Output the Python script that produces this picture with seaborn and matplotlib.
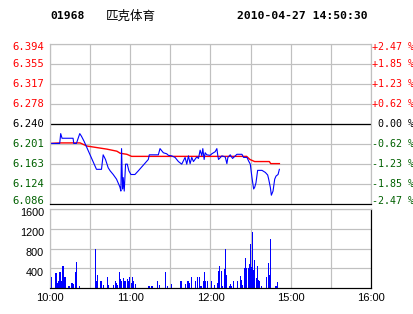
import matplotlib
matplotlib.use("Agg")
import matplotlib.pyplot as plt
import matplotlib.transforms as mtransforms
import seaborn as sns

# ---------------- data ----------------
code = "01968"
name = "匹克体育"
stamp = "2010-04-27 14:50:30"
prev_close = 6.240
price_ticks = [6.394, 6.355, 6.317, 6.278, 6.240, 6.201, 6.163, 6.124, 6.086]
pct_labels = ["+2.47 %", "+1.85 %", "+1.23 %", "+0.62 %", " 0.00 %",
              "-0.62 %", "-1.23 %", "-1.85 %", "-2.47 %"]
vol_ticks = [400, 800, 1200, 1600]
time_pos = [0, 60, 120, 180, 240]          # trading minutes after 10:00
time_labels = ["10:00", "11:00", "12:00", "15:00", "16:00"]

price_t = [0, 7.25, 8, 9, 17.25, 17.75, 19.75, 22.25, 23.5, 25.5,
           34.75, 38.5, 39.75, 41.5, 43.5, 45, 47.25, 49.75, 52.25, 53,
           53.5, 54.25, 54.75, 55.5, 56.5, 57.75, 59, 60.5, 63.5, 66,
           73.5, 74.25, 81, 82.25, 84.75, 87.25, 88.5, 91, 93.5, 96,
           98.5, 101, 102.25, 103.5, 104.75, 106, 107.25, 109.75, 111, 112.25,
           113.5, 114.25, 115.25, 116, 117.25, 119.75, 121, 123.5, 124.75, 125.5,
           126, 128.5, 131, 132.25, 133, 134.75, 136.5, 138.5, 139.75, 143.5,
           144.75, 147.25, 148.5, 149.75, 151, 152.25, 153, 154, 155.25, 158.5,
           161, 162.75, 163.5, 164.75, 165.5, 166.75, 168, 169, 170.5, 171.5]
price = [6.202, 6.202, 6.221, 6.212, 6.212, 6.202, 6.202, 6.221, 6.216, 6.206,
         6.152, 6.152, 6.180, 6.171, 6.155, 6.149, 6.142, 6.133, 6.118, 6.110,
         6.192, 6.114, 6.136, 6.110, 6.162, 6.162, 6.149, 6.142, 6.142, 6.149,
         6.171, 6.180, 6.180, 6.192, 6.184, 6.182, 6.179, 6.178, 6.175, 6.167,
         6.162, 6.175, 6.162, 6.178, 6.163, 6.175, 6.167, 6.176, 6.173, 6.189,
         6.178, 6.192, 6.171, 6.184, 6.180, 6.179, 6.182, 6.186, 6.192, 6.178,
         6.171, 6.178, 6.176, 6.163, 6.175, 6.180, 6.173, 6.178, 6.181, 6.181,
         6.175, 6.175, 6.168, 6.162, 6.136, 6.114, 6.117, 6.126, 6.150, 6.150,
         6.146, 6.141, 6.133, 6.117, 6.102, 6.110, 6.133, 6.139, 6.142, 6.152]

avg_t = [0, 7.5, 22.5, 25, 27.5, 35, 42.5, 50, 52.5, 57.5, 61,
         147, 149.5, 153, 164, 165, 171.5]
avg = [6.202, 6.203, 6.203, 6.200, 6.197, 6.194, 6.191, 6.187, 6.183, 6.181, 6.177,
       6.177, 6.171, 6.167, 6.167, 6.163, 6.163]

vol_t = [0, 0.75, 4.5, 5.25, 6.75, 7.5, 8.25, 9.75, 11.25, 14.25,
         16.5, 17.25, 18.75, 19.5, 21.75, 33.75, 34.5, 35.25, 37.5, 38.25,
         39.75, 42.75, 43.5, 47.25, 48.75, 49.5, 50.25, 51.75, 52.5, 53.25,
         54.75, 55.5, 56.25, 57.75, 58.5, 59.25, 60.75, 61.5, 62.25, 63.75,
         73.5, 74.25, 75.75, 76.5, 80.25, 81.75, 86.25, 87.75, 90.75, 97.5,
         98.25, 101.25, 102.75, 103.5, 104.25, 105.75, 108.75, 110.25, 111.75, 112.5,
         113.25, 114.75, 115.5, 116.25, 117.75, 120.75, 123, 125.25, 126, 126.75,
         128.25, 129, 130.5, 131.25, 132, 134.25, 135, 135.75, 137.25, 140.25,
         142.5, 143.25, 144, 145.5, 146.25, 147, 148.5, 149.25, 150, 150.75,
         151.5, 152.25, 153, 154.5, 155.25, 156, 156.75, 158.25, 162, 163.5,
         164.25, 165, 168.75, 169.5, 170.25]
vol = [1500, 220, 300, 100, 135, 330, 150, 450, 220, 50,
       100, 80, 330, 530, 50, 800, 150, 270, 150, 135,
       70, 230, 70, 70, 150, 100, 70, 330, 190, 150,
       200, 135, 135, 190, 150, 230, 100, 230, 135, 90,
       50, 50, 50, 50, 150, 70, 330, 50, 90, 135,
       135, 90, 135, 135, 100, 230, 135, 230, 230, 50,
       50, 135, 330, 150, 150, 135, 70, 100, 350, 450,
       350, 50, 385, 800, 270, 50, 90, 50, 135, 135,
       250, 170, 70, 410, 610, 410, 410, 490, 900, 430,
       1140, 370, 570, 210, 450, 170, 135, 50, 230, 510,
       270, 1000, 50, 50, 130]

# ---------------- figure ----------------
W, H = 414, 314
fig = plt.figure(figsize=(W / 100, H / 100), dpi=100, facecolor="white")

def rect(l, t, r, b):
    return [l / W, (H - b) / H, (r - l) / W, (b - t) / H]

GRID = "#c0c0c0"
PX = 0.72
RED = "#ff0000"
GREEN = "#006000"
BLUE = "#0000ff"

axp = fig.add_axes(rect(50, 44, 371, 203.5))
axv = fig.add_axes(rect(50, 209, 371, 288))

# price panel
sns.lineplot(x=avg_t, y=avg, ax=axp, color=RED, lw=1.0, estimator=None, sort=False)
sns.lineplot(x=price_t, y=price, ax=axp, color=BLUE, lw=0.8, estimator=None, sort=False)
axp.set_xlim(0, 240)
axp.set_ylim(price_ticks[-1], price_ticks[0])
axp.axhline(prev_close, color="black", lw=0.9, zorder=1.5)

# volume panel
sns.barplot(x=vol_t, y=vol, ax=axv, native_scale=True, orient="x", color=BLUE,
            saturation=1, width=1.15, errorbar=None, linewidth=0,
            antialiased=False)
axv.set_xlim(0, 240)
axv.set_ylim(0, 1600)

for ax in (axp, axv):
    ax.set_xticks(range(0, 241, 30))
    ax.set_xticklabels([])
    ax.set_xlabel("")
    ax.set_ylabel("")
    ax.tick_params(length=0, labelleft=False, labelbottom=False)
    ax.grid(True, color=GRID, lw=PX * 1.2, zorder=0)
    ax.set_axisbelow(True)
    ax.set_facecolor("white")
    for s in ax.spines.values():
        s.set_color(GRID)
        s.set_linewidth(PX * 1.2)
    ax.spines["bottom"].set_color("black")

axp.set_yticks(price_ticks)
axp.set_yticklabels([])
axv.set_yticks(vol_ticks)
axv.set_yticklabels([])
axv.spines["right"].set_color("black")

# price labels (left) and percent labels (right)
tp = mtransforms.blended_transform_factory(fig.transFigure, axp.transData)
n = len(price_ticks)
for i, (pv, pl) in enumerate(zip(price_ticks, pct_labels)):
    if i < 4:
        c = RED
    elif i == 4:
        c = "black"
    else:
        c = GREEN
    dy = 0
    if i == 0:
        dy = -3
    elif i == n - 1:
        dy = 3
    off = mtransforms.offset_copy(tp, fig=fig, x=0, y=dy, units="dots")
    axp.text(44 / W, pv, f"{pv:.3f}", transform=off, ha="right", va="center",
             color=c, fontsize=7.6, family="DejaVu Sans Mono")
    axp.text(372 / W, pv, pl, transform=off, ha="left", va="center",
             color=c, fontsize=7.2, family="DejaVu Sans Mono")

# volume labels
tv = mtransforms.blended_transform_factory(fig.transFigure, axv.transData)
offv = mtransforms.offset_copy(tv, fig=fig, x=0, y=-4.5, units="dots")
for v in vol_ticks:
    axv.text(44 / W, v, str(v), transform=offv, ha="right", va="center",
             color="black", fontsize=7.8, family="Liberation Sans")

# time labels
tt = mtransforms.blended_transform_factory(axv.transData, fig.transFigure)
for tpos, tl in zip(time_pos, time_labels):
    axv.text(tpos, (H - 298) / H, tl, transform=tt, ha="center", va="center",
             color="black", fontsize=8, family="Liberation Sans")

# header
fig.text(50 / W, (H - 16) / H, code, ha="left", va="center", fontsize=8.2,
         fontweight="bold", family="DejaVu Sans Mono")
fig.text(106 / W, (H - 16) / H, name, ha="left", va="center", fontsize=9,
         family=["Noto Sans CJK SC", "DejaVu Sans"])
fig.text(237.5 / W, (H - 16) / H, stamp, ha="left", va="center", fontsize=8.2,
         fontweight="bold", family="DejaVu Sans Mono")

fig.savefig("out.png", dpi=100, facecolor="white")
